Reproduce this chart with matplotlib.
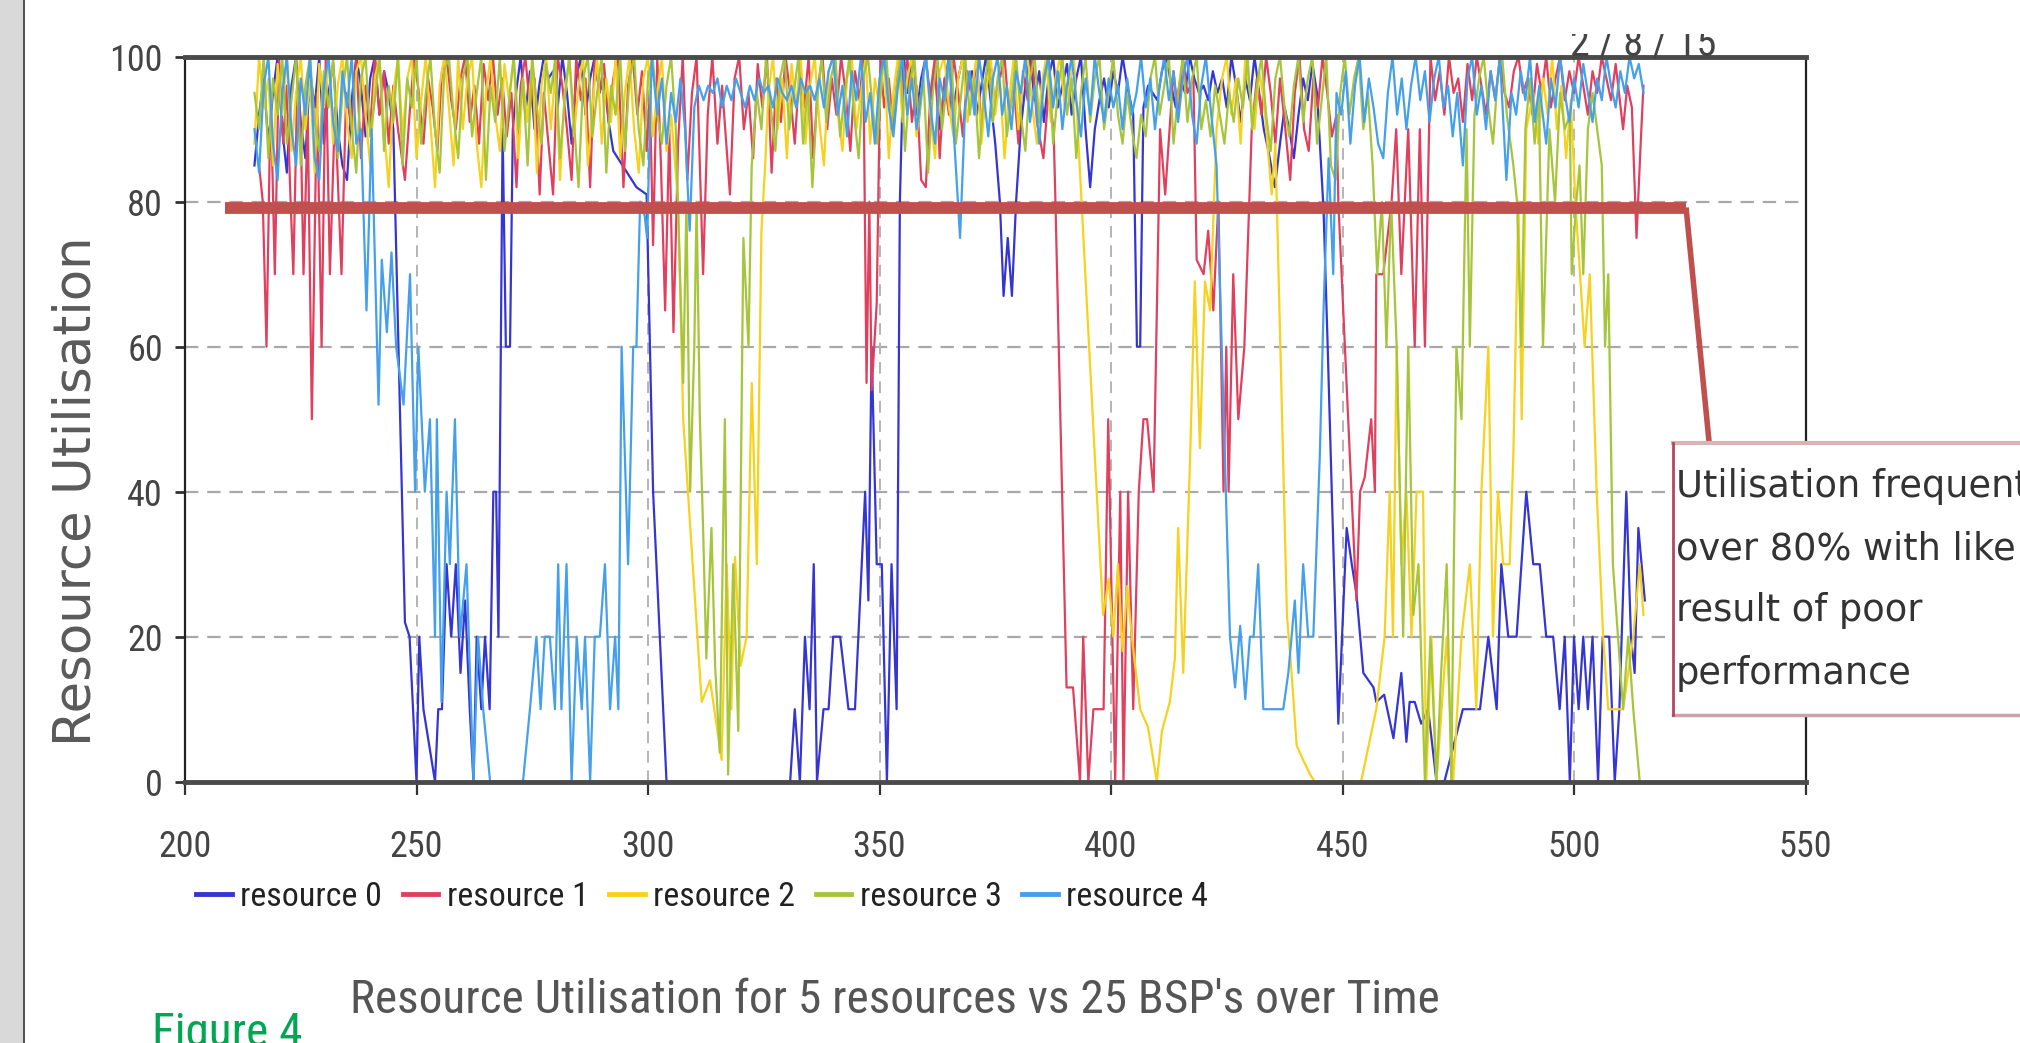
import matplotlib
matplotlib.use("Agg")
import matplotlib.pyplot as plt
from matplotlib import font_manager as fm
from matplotlib.lines import Line2D
from matplotlib.patches import Rectangle

# ---------------- data ----------------
labels = ["resource 0", "resource 1", "resource 2", "resource 3", "resource 4"]
colors = ["#3535d4", "#e0405e", "#f6d21e", "#a6c53b", "#45a0ec"]

r0 = [(215,85),(216,92),(217,97),(218,88),(219,95),(220,100),(221,90),(222,84),(223,96),(224,100),(225,91),(226,86),(227,98),(228,93),(229,100),(230,88),(231,95),(232,99),(233,90),(234,85),(235,83),(236,94),(237,100),(238,96),(239,89),(240,97),(241,100),(242,92),(243,98),(244,95),(245,90),(247.5,22),(248.5,20),(250,0),(250.6,20),(251.5,10),(254,0),(254.7,10),(255.5,10),(256.5,30),(257.5,20),(258.5,30),(259.5,15),(260.5,25),(261.5,10),(262.3,0),(263,20),(264,10),(264.8,20),(265.8,10),(266.6,40),(267.2,40),(267.7,20),(268.6,90),(269.3,60),(270.2,60),(270.8,90),(271.5,95),(272.5,100),(273.5,92),(274.5,98),(275.5,90),(276.5,96),(277.5,100),(278.5,97),(279.5,98),(280.5,93),(281.5,100),(282.5,95),(283.5,88),(284.5,97),(285.5,100),(286.5,92),(287.5,97),(288.5,100),(289.5,95),(290.5,97),(291.5,91),(292.5,87),(293.5,86),(295.5,84),(297.5,82),(299.7,81),(301.1,40),(304,0),(330.7,0),(331.7,10),(332.8,0),(333.9,20),(334.9,10),(335.8,30),(336.5,0),(337.9,10),(339,10),(340,20),(341.5,20),(343.3,10),(344.7,10),(346.9,40),(347.6,25),(348.3,60),(349.4,30),(350.5,30),(351.6,0),(352.6,30),(353.7,10),(354.4,80),(355.2,100),(356,95),(357,100),(358,92),(359,97),(360,100),(361,94),(362,98),(363,90),(364,96),(365,100),(366,93),(367,97),(368,100),(369,95),(370,98),(371,92),(372,96),(373,100),(374,94),(375,88),(376,80),(376.8,67),(377.7,75),(378.6,67),(379.5,80),(380.5,90),(381.5,96),(382.5,100),(383.5,94),(384.5,98),(385.5,91),(386.5,97),(387.5,100),(388.5,93),(389.5,96),(390.5,99),(391.5,92),(392.5,97),(393.5,100),(394.5,90),(395.5,82),(396.5,90),(397.5,94),(398.5,97),(399.5,93),(400.5,98),(401.5,95),(402.5,100),(403.5,96),(404.8,92),(405.6,60),(406.3,60),(407,93),(408,96),(409,95),(410,94),(411,98),(412,100),(413,96),(414,93),(415,97),(416,95),(417,100),(418,97),(419,95),(420,96),(421,94),(422,98),(423,95),(424,97),(425,93),(426,100),(427,96),(428,91),(429,97),(430,94),(431,100),(432,95),(433,90),(434,87),(435.4,82),(436.5,88),(437.5,93),(438.5,90),(439.5,86),(440.5,92),(441.5,97),(442.5,94),(443.5,99),(444.5,95),(445.9,79),(446.8,60),(449.1,8),(450.9,35),(452,30),(453,26),(454.5,15),(456.7,13),(457.3,11),(459,12),(461,6),(462.7,15),(463.8,5.5),(464.5,11),(465.6,11),(467,8),(468.5,10),(470.3,0),(472,0),(476,10),(479.7,10),(481.5,20),(483.3,10),(484.3,30),(485.8,20),(487.6,20),(489.7,40),(491.2,30),(492.6,30),(494,20),(495.5,20),(496.9,10),(498,20),(499.1,0),(500,20),(501,10),(502,20),(503,10),(504,20),(505.2,0),(506.2,20),(507.6,20),(508.8,0),(509.8,10),(511.3,40),(512.3,20),(513.1,15),(513.9,35),(515.3,25)]

r1 = [(216,85),(216.8,80),(217.6,60),(218.5,95),(219.4,70),(220.3,100),(221.2,88),(222,96),(222.7,82),(223.4,70),(224.3,98),(225,90),(225.6,70),(226.5,92),(227.4,50),(228.5,95),(229.5,60),(230.4,100),(231.3,70),(232.4,93),(233.8,70),(234.8,95),(236,90),(237,100),(238,86),(239,96),(240,90),(241,100),(242,92),(243,98),(244,88),(245,96),(246,90),(247.5,83),(248.5,92),(249.5,100),(250.5,95),(251.5,88),(252.5,97),(253.5,93),(254.5,87),(255.5,98),(256.5,100),(257.5,94),(258.5,90),(259.5,97),(260.5,100),(261.5,91),(262.5,96),(263.5,88),(264.5,99),(265.5,94),(266.5,100),(267.5,92),(268.5,97),(269.5,89),(270.5,95),(271.6,82),(272.5,96),(273.5,100),(274.5,93),(275.5,97),(276.6,81),(277.5,95),(278.5,88),(279.5,81),(280.5,100),(281.5,96),(282.5,90),(283.5,83),(284.5,100),(285.5,94),(286.5,97),(287.5,82),(288.5,100),(289.5,95),(290.5,99),(291.5,91),(292.5,97),(293.5,100),(294.7,82),(295.7,96),(296.7,100),(297.7,92),(298.7,98),(299.7,87),(300.4,95),(301.1,74),(302,100),(302.8,85),(303.7,65),(304.6,90),(305.5,62),(306.5,88),(307.5,100),(308.5,83),(309.5,95),(310.5,100),(311.9,70),(312.9,92),(313.9,100),(315,88),(316,96),(317.7,81),(318.7,97),(319.7,100),(320.7,90),(321.7,95),(322.7,86),(323.7,99),(324.7,93),(325.7,100),(326.7,84),(327.7,97),(328.7,91),(329.7,100),(330.7,95),(331.7,88),(332.7,98),(333.7,93),(334.7,100),(335.7,86),(336.7,96),(337.7,100),(338.7,90),(339.7,97),(340.7,92),(341.7,100),(342.7,95),(343.7,87),(344.7,98),(345.7,94),(346.5,100),(347.2,55),(347.8,80),(348.3,54),(349.4,66),(350.2,100),(351,93),(352,97),(353,90),(354,98),(355,95),(356,100),(357,91),(358,96),(359,83),(360,82),(361,95),(362,100),(363,86),(364,97),(365,92),(366,100),(367,95),(368,89),(369,98),(370,94),(371,100),(372,90),(373,96),(374,99),(375,93),(376,97),(377,100),(378,92),(379,96),(380,88),(381,98),(382,94),(383,100),(384,91),(385.4,86),(386.5,95),(387.6,90),(388,80),(390.4,13),(391.8,13),(393.3,0),(394,20),(395.1,0),(396.2,10),(398.4,10),(399.4,50),(400.9,0),(402,40),(402.7,0),(403.7,40),(404.8,10),(406,40),(407,50),(407.8,50),(409.2,40),(410.6,90),(411.7,81),(413.5,98),(414.5,92),(415.5,100),(416.5,95),(417.8,97),(418.5,72),(420,70),(421,76),(422.1,65),(423.2,80),(424.3,40),(424.9,60),(425.4,40),(426.4,70),(427.5,50),(428.8,60),(430.4,90),(431.5,97),(432.5,92),(433.5,100),(434.5,95),(435.5,88),(436.5,97),(437.5,91),(438.7,83),(439.7,95),(440.7,100),(441.7,90),(442.7,87),(443.7,97),(444.7,93),(445.7,100),(446.7,95),(447.7,89),(448.7,92),(449.1,80),(453,25),(453.8,40),(454.8,42),(456.2,50),(457,40),(457.3,70),(458.8,70),(460.6,80),(461.6,90),(462.7,70),(464.2,90),(465.6,60),(466.7,90),(467.8,60),(469,100),(470,94),(471,98),(472,92),(473,100),(474,95),(475,97),(476,91),(477,99),(478,94),(479,100),(480,96),(481,92),(482,98),(483,94),(484,100),(485,95),(486,93),(487,98),(488,100),(489,95),(490,97),(491,92),(492,99),(493,95),(494,100),(495,93),(496,97),(497,100),(498,94),(499,98),(500,95),(501,100),(502,96),(503,92),(504,98),(505,95),(506,100),(507,97),(508,94),(509,99),(510.6,90),(511.5,96),(512.5,93),(513.5,75),(514.4,88),(515,96)]

r2 = [(215,88),(216,100),(217,93),(218,97),(219,85),(220,99),(221,92),(222,100),(223,87),(224,95),(225,100),(226,90),(227,97),(228,84),(229,99),(230,93),(231,100),(232,88),(233,96),(234,100),(235,91),(236,86),(237,98),(238,100),(239,92),(240,85),(241,97),(242,100),(243,90),(244,82),(245,95),(246,100),(247,89),(248,97),(249,100),(250,86),(251,94),(252,100),(253,91),(254,82),(255,96),(256,100),(257,93),(258,85),(259,100),(260,90),(261,97),(262,100),(263,88),(264,82),(265,95),(266,100),(267,92),(268,87),(269,99),(270,94),(271,100),(272,86),(273,97),(274,91),(275,100),(276,84),(277,96),(278,100),(279,90),(280,98),(281,83),(282,95),(283,100),(284,89),(285,96),(286,100),(287,85),(288,93),(289,100),(290,88),(291,97),(292,91),(293,100),(294,86),(295,95),(296,100),(297,90),(298,84),(299,97),(300,100),(301,89),(302,95),(303,100),(304,87),(305,92),(306.5,80),(307.6,50),(311.6,11),(313.4,14),(315.9,3),(317,30),(318,10),(318.8,31),(320,16),(321.3,20),(322.4,55),(323.5,30),(324.5,76),(325.3,85),(326,95),(327,100),(328,90),(329,97),(330,86),(331,99),(332,93),(333,100),(334,88),(335,96),(336,100),(337,91),(338,85),(339,98),(340,100),(341,92),(342,87),(343,97),(344,100),(345,90),(346,95),(347,100),(348,88),(349,97),(350,93),(351,100),(352,86),(353,95),(354,100),(355,91),(356,97),(357,100),(358,89),(359,95),(360,100),(361,92),(362,86),(363,98),(364,100),(365,93),(366,89),(367,97),(368,100),(369,91),(370,96),(371,100),(372,88),(373,95),(374,100),(375,92),(376,97),(377,86),(378,94),(379,100),(380,90),(381,97),(382,100),(383,93),(384,88),(385,96),(386,100),(387,91),(388,97),(389,100),(390,93),(391,96),(392,100),(398.3,23),(399.5,28),(400.5,20),(401.5,30),(402.5,18),(403.5,27),(404.5,20),(406.3,10),(408,7.5),(409.9,0),(411,7),(412.7,11),(413.8,17),(414.5,35),(415.6,15),(417.1,45),(418.1,69),(419.2,46),(420.3,69),(421.4,65),(422.8,90),(424,97),(425,100),(426,92),(427,97),(428,88),(429,100),(430,95),(431,90),(432,98),(433,94),(434.7,81),(435.5,88),(438,23),(439,15),(440.1,5),(441.5,3),(443,1),(444,0),(454,0),(457.3,10),(459.1,20),(460.2,40),(460.9,20),(461.7,60),(462.7,30),(463.8,40),(464.9,20),(466,40),(467.4,40),(468.1,0),(469.2,20),(470.3,0),(472.5,20),(473.9,0),(475.7,20),(477.5,30),(478.9,10),(480,40),(481.5,60),(482.5,20),(483.6,40),(484.7,30),(486.1,30),(486.9,45),(488,80),(488.7,50),(489.7,90),(491.2,95),(492.3,88),(493.3,97),(494.3,92),(495.3,100),(496.3,90),(497.3,96),(498.3,86),(499.3,94),(500.3,80),(501.3,70),(502.3,60),(503.4,70),(504.9,40),(506.3,20),(507.4,10),(508.8,10),(510.6,10),(512.8,20),(514.2,30),(515,23)]

r3 = [(215,95),(216,90),(217,100),(218,86),(219,97),(220,92),(221,100),(222,88),(223,94),(224,100),(225,85),(226,96),(227,100),(228,91),(229,87),(230,98),(231,93),(232,100),(233,86),(234,95),(235,100),(236,90),(237,84),(238,97),(239,100),(240,89),(241,94),(242,100),(243,87),(244,96),(245,91),(246,100),(247,85),(248,97),(249,93),(250,100),(251,88),(252,95),(253,100),(254,90),(255,84),(256,98),(257,100),(258,92),(259,86),(260,97),(261,100),(262,89),(263,95),(264,100),(265,83),(266,96),(267,91),(268,100),(269,87),(270,94),(271,100),(272,90),(273,97),(274,85),(275,100),(276,93),(277,88),(278,99),(279,95),(280,100),(281,86),(282,94),(283,100),(284,91),(285,82),(286,97),(287,100),(288,89),(289,95),(290,100),(291,84),(292,96),(293,92),(294,100),(295,87),(296,97),(297,100),(298,90),(299,85),(300,97),(301,100),(302,92),(303,88),(304,96),(305,100),(306,90),(307.6,55),(308.3,80),(309.1,40),(310,60),(310.5,80),(311.2,50),(311.9,35),(312.6,17),(313.7,35),(314.5,16),(315.5,4),(316.6,50),(317.3,1),(318.4,30),(319.5,7),(320.6,75),(321.7,60),(322.4,85),(323.5,95),(324.5,90),(325.5,100),(326.5,93),(327.5,87),(328.5,97),(329.5,100),(330.5,90),(331.5,95),(332.5,100),(333.5,88),(334.5,96),(335.5,82),(336.5,94),(337.5,100),(338.5,91),(339.5,97),(340.5,100),(341.5,89),(342.5,95),(343.5,100),(344.5,92),(345.5,86),(346.5,97),(347.5,100),(348.5,93),(349.5,88),(350.5,98),(351.5,100),(352.5,90),(353.5,95),(354.5,100),(355.5,87),(356.5,96),(357.5,100),(358.5,91),(359.5,97),(360.5,84),(361.5,95),(362.5,100),(363.5,90),(364.5,96),(365.5,100),(366.5,88),(367.5,94),(368.5,100),(369.5,92),(370.5,97),(371.5,86),(372.5,95),(373.5,100),(374.5,91),(375.5,97),(376.5,100),(377.5,89),(378.5,94),(379.5,100),(380.5,92),(381.5,87),(382.5,97),(383.5,100),(384.5,91),(385.5,96),(386.5,100),(387.5,88),(388.5,95),(389.5,100),(390.5,92),(391.5,97),(392.5,86),(393.5,95),(394.5,100),(395.5,91),(396.5,97),(397.5,100),(398.5,90),(399.5,95),(400.5,100),(401.5,92),(402.5,88),(403.5,95),(404.5,90),(405.5,86),(406.5,92),(407.5,89),(408.5,97),(409.5,100),(410.5,92),(411.5,96),(412.5,100),(413.5,88),(414.5,95),(415.5,100),(416.5,91),(417.5,97),(418.5,100),(419.5,90),(420.5,94),(421.5,89),(422.5,96),(423.5,92),(424.5,88),(425.5,95),(426.5,91),(427.5,97),(428.5,93),(429.5,100),(430.5,90),(431.5,96),(432.5,100),(433.5,92),(434.5,87),(435.5,97),(436.5,100),(437.5,93),(438.5,89),(439.5,96),(440.5,100),(441.5,91),(442.5,97),(443.5,100),(444.5,88),(445.5,94),(446.5,100),(447.5,85),(448.5,83),(449.5,95),(450.5,100),(451.5,92),(452.5,97),(453.5,100),(454.5,90),(455.5,95),(456.5,85),(457.5,70),(458.5,80),(459.5,60),(460.5,80),(461.7,60),(463.1,20),(464.2,60),(465.3,23),(466.4,30),(467.8,0),(469,20),(470.3,0),(471.3,15),(472.5,30),(473.5,0),(474.6,60),(475.7,50),(476.8,90),(477.5,60),(478.5,92),(479.5,97),(480.5,100),(481.5,93),(482.5,88),(483.5,97),(484.5,100),(485.5,92),(486.9,85),(487.7,80),(488.6,60),(489.5,90),(490.5,97),(491.5,88),(492.4,95),(493.3,60),(494.7,90),(495.9,80),(497,95),(498,90),(499.1,92),(499.5,70),(500.5,80),(501.2,85),(502,70),(503,90),(504,95),(505,90),(506,85),(506.7,60),(507.4,70),(508.4,30),(509.5,20),(510.6,10),(511.7,20),(512.8,10),(514.2,0)]

r4 = [(215,90),(216,84),(217,96),(218,100),(219,88),(220,83),(221,95),(222,100),(223,90),(224,85),(225,97),(226,92),(227,100),(228,86),(229,83),(230,96),(231,100),(232,91),(233,87),(234,98),(235,93),(236,100),(237,88),(238,90),(239.2,65),(240.3,90),(241.8,52),(242.5,72),(243.6,62),(244.6,73),(245.6,60),(247.2,52),(248.6,70),(249.7,40),(250.4,60),(251.8,40),(252.9,50),(254,20),(254.4,50),(255.4,11),(256.5,40),(257.2,30),(258.3,50),(259.4,20),(260.8,30),(262.3,0),(263.3,20),(264.4,10),(265.9,0),(273,0),(274.5,10),(275.9,20),(276.8,10),(277.7,20),(278.8,20),(279.9,10),(280.6,30),(281.3,10),(282.4,30),(283.5,0),(284.6,20),(285.7,10),(286.4,20),(287.5,0),(288.5,20),(289.6,20),(290.7,30),(291.8,10),(292.9,20),(293.6,10),(294.3,60),(295.7,30),(296.8,60),(297.5,60),(298.3,80),(299.3,78),(299.8,75),(300.8,100),(302,92),(303,97),(304,88),(305,95),(306,91),(307,97),(308,90),(309,76),(310,93),(311,96),(312,94),(313,96),(314,95),(315,97),(316,93),(317,96),(318,94),(319,97),(320,95),(321,93),(322,96),(323,94),(324,97),(325,95),(326,96),(327,93),(328,97),(329,95),(330,94),(331,96),(332,93),(333,97),(334,95),(335,96),(336,94),(337,97),(338,93),(339,98),(340,100),(341,92),(342,96),(343,89),(344,98),(345,94),(346,100),(347,91),(348,95),(349,88),(350,97),(351,100),(352,93),(353,89),(354,96),(355,100),(356,92),(357,97),(358,90),(359,95),(360,100),(361,93),(362,88),(363,97),(364,94),(365,100),(366,90),(367.4,75),(368.5,93),(369.5,98),(370.5,92),(371.5,100),(372.5,95),(373.5,89),(374.5,97),(375.5,100),(376.5,92),(377.5,96),(378.5,90),(379.5,98),(380.5,95),(381.5,100),(382.5,91),(383.5,96),(384.5,88),(385.5,97),(386.5,100),(387.5,93),(388.5,98),(389.5,90),(390.5,96),(391.5,100),(392.5,94),(393.5,89),(394.5,97),(395.5,92),(396.5,100),(397.5,95),(398.5,91),(399.5,97),(400.5,93),(401.5,96),(402.5,90),(403.5,97),(404.5,92),(405.5,95),(406.5,100),(407.5,93),(408.5,97),(409.5,90),(410.5,96),(411.5,100),(412.5,94),(413.5,98),(414.5,91),(415.5,97),(416.5,100),(417.5,92),(418.5,88),(419.5,96),(420.5,100),(421.5,93),(422.8,85),(425.7,20),(426.8,13),(427.9,21.5),(429,11.4),(430,20),(430.8,20),(431.8,30),(432.9,10),(437.2,10),(438.3,15),(439.7,25),(440.5,15),(441.5,30),(442.6,20),(443.7,20),(445.1,45),(445.9,65),(447,86),(448,70),(448.7,95),(449.7,92),(450.7,98),(451.7,88),(452.7,96),(453.7,100),(454.7,91),(455.7,97),(456.7,93),(457.7,88),(458.8,86),(459.8,95),(460.8,100),(461.8,92),(462.8,97),(463.8,90),(464.8,96),(465.8,100),(466.8,94),(467.8,98),(468.8,91),(469.8,97),(470.8,100),(471.8,93),(472.8,96),(473.8,89),(474.8,95),(476,85),(477,97),(478,100),(479,92),(480,96),(481,90),(482,98),(483,94),(484,100),(485.4,83),(486.5,95),(487.5,92),(488.5,98),(489.5,94),(490.5,100),(491.5,91),(492.5,96),(494,88),(495,97),(496,93),(497,100),(498,95),(499,91),(500,97),(501,93),(502,99),(503,95),(504,91),(505,97),(506,94),(507,100),(508,96),(509,93),(510,98),(511,95),(512,100),(513,97),(514,99),(515,95)]

series = [r0, r1, r2, r3, r4]

# threshold marker line (hand-drawn overlay in the reference)
thr_x = [208.7, 524.2, 529.2]
thr_y = [79.2, 79.2, 46.7]

x_ticks = [200, 250, 300, 350, 400, 450, 500, 550]
y_ticks = [0, 20, 40, 60, 80, 100]

title = "Resource Utilisation for 5 resources vs 25 BSP's over Time"
ylabel = "Resource Utilisation"
note_lines = ["Utilisation frequent", "over 80% with like", "result of poor", "performance"]
date_text = "2 / 8 / 15"
fig_label = "Figure 4"

# ---------------- fonts ----------------
names = {f.name for f in fm.fontManager.ttflist}
NARROW = None
for cand in ["Liberation Sans Narrow", "Roboto Condensed", "Open Sans Condensed", "Liberation Sans"]:
    if cand in names:
        NARROW = cand
        break
if NARROW is None:
    NARROW = "DejaVu Sans"
k = 1.0 if NARROW != "Liberation Sans" else 0.85

W, H = 2020, 1043
fig = plt.figure(figsize=(W / 100, H / 100), dpi=100)
fig.patch.set_facecolor("white")

ax_l, ax_r, ax_t, ax_b = 185, 1805.5, 56.7, 781.7
ax = fig.add_axes([ax_l / W, 1 - ax_b / H, (ax_r - ax_l) / W, (ax_b - ax_t) / H])

for pts, c in zip(series, colors):
    xs = [p[0] for p in pts]
    ys = [p[1] for p in pts]
    ax.plot(xs, ys, color=c, lw=1.6, zorder=3)

ax.plot(thr_x[:2], thr_y[:2], color="#c0504d", lw=8.5, solid_capstyle="butt", zorder=6)
ax.plot(thr_x[1:], thr_y[1:], color="#c0504d", lw=4, solid_capstyle="butt", zorder=6)

ax.set_xlim(200, 550)
ax.set_ylim(0, 100)
ax.set_xticks(x_ticks)
ax.set_yticks(y_ticks)

# grid
for yv in y_ticks[1:-1]:
    ax.axhline(yv, color="#a8a8a8", lw=1.6, ls=(0, (6, 4)), zorder=1)
for xv in x_ticks[1:-1]:
    ax.axvline(xv, color="#b4b4b4", lw=1.4, ls=(0, (6, 4)), zorder=1)

for s in ["top", "bottom"]:
    ax.spines[s].set_linewidth(3.5)
    ax.spines[s].set_color("#4a4a4a")
for s in ["left", "right"]:
    ax.spines[s].set_linewidth(1.6)
    ax.spines[s].set_color("#222222")
for s in ax.spines.values():
    s.set_zorder(7)

ax.tick_params(axis="y", direction="out", length=7, width=2, color="#333333",
               pad=9, labelsize=26 * k, labelcolor="#444444")
ax.tick_params(axis="x", direction="out", length=9, width=1.6, color="#333333",
               pad=25, labelsize=26 * k, labelcolor="#444444")
for lab in ax.get_xticklabels() + ax.get_yticklabels():
    lab.set_fontfamily(NARROW)

# y label
fig.text(77 / W, 1 - 491 / H, ylabel, rotation=90, ha="center", va="center",
         fontsize=37, color="#5a5a5a", family="DejaVu Sans")

# legend
handles = [Line2D([0], [0], color=c, lw=3.5) for c in colors]
fig.legend(handles, labels, loc="center left", bbox_to_anchor=(196 / W, 1 - 897 / H),
           ncol=5, frameon=False, handlelength=1.05, handletextpad=0.25,
           columnspacing=0.6, borderpad=0, borderaxespad=0,
           prop={"family": NARROW, "size": 24.5 * k}, labelcolor="#222222")

# title below
fig.text(895 / W, 1 - 1013 / H, title, ha="center", va="baseline",
         fontsize=34 * k, color="#555555", family=NARROW)

# Figure 4 label
fig.text(152 / W, -3 / H, fig_label, ha="left", va="baseline",
         fontsize=34 * k, color="#00a651", family=NARROW)

# left grey strip
fig.add_artist(Rectangle((0, 0), 24 / W, 1, transform=fig.transFigure,
                         facecolor="#d9d9d9", edgecolor="none", zorder=1))
fig.add_artist(Line2D([24 / W, 24 / W], [0, 1], transform=fig.transFigure,
                      color="#555555", lw=1.5, zorder=2))

# annotation box
bx0, by0, by1 = 1673, 443, 715
fig.add_artist(Rectangle((bx0 / W, 1 - by1 / H), (W + 10 - bx0) / W, (by1 - by0) / H,
                         transform=fig.transFigure, facecolor="white",
                         edgecolor="none", zorder=5))
fig.add_artist(Line2D([bx0 / W, 1.01], [1 - by0 / H] * 2, transform=fig.transFigure,
                      color="#d8b4b4", lw=3, zorder=6))
fig.add_artist(Line2D([bx0 / W, 1.01], [1 - by1 / H] * 2, transform=fig.transFigure,
                      color="#d0a0a8", lw=2.5, zorder=6))
fig.add_artist(Line2D([bx0 / W, bx0 / W], [1 - by0 / H, 1 - by1 / H], transform=fig.transFigure,
                      color="#b04860", lw=2, zorder=6))
baselines = [497, 560, 621, 684]
for txt, b in zip(note_lines, baselines):
    fig.text(1676 / W, 1 - b / H, txt, ha="left", va="baseline", fontsize=26.5,
             color="#333333", family="DejaVu Sans", zorder=7)

# date text at top right, its upper part hidden as in the reference
fig.text(1570 / W, 1 - 55 / H, date_text, ha="left", va="baseline",
         fontsize=29 * k, color="#444444", family=NARROW, zorder=8)
fig.add_artist(Rectangle((1540 / W, 1 - 34 / H), 220 / W, 34 / H, transform=fig.transFigure,
                         facecolor="white", edgecolor="none", zorder=9))

fig.savefig("out.png", dpi=100, facecolor="white")
